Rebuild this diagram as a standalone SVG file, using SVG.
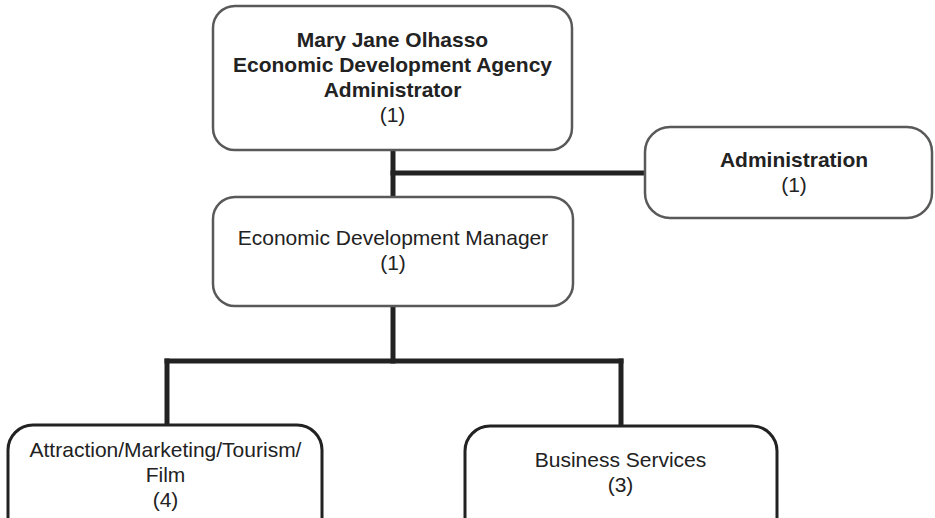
<svg xmlns="http://www.w3.org/2000/svg" width="935" height="518" viewBox="0 0 935 518">
<style>
.box{fill:#fff;stroke:#595959;stroke-width:2.5}
.box2{fill:#fff;stroke:#222;stroke-width:3}
.conn{fill:none;stroke:#222;stroke-width:5;stroke-linecap:square}
text{font-family:"Liberation Sans",Arial,sans-serif;font-size:21px;fill:#222;text-anchor:middle}
.b{font-weight:bold}
</style>
<rect width="935" height="518" fill="#fff"/>
<g id="connectors">
<path class="conn" d="M393,151 V196"/>
<path class="conn" d="M393,173 H645"/>
<path class="conn" d="M393,307 V361"/>
<path class="conn" d="M167,361 H621"/>
<path class="conn" d="M167,361 V424"/>
<path class="conn" d="M621,361 V424"/>
</g>
<g id="node-olhasso">
<rect class="box" x="213" y="6" width="359" height="144" rx="22"/>
<text class="b" x="392.5" y="47">Mary Jane Olhasso</text>
<text class="b" x="392.5" y="72">Economic Development Agency</text>
<text class="b" x="392.5" y="97">Administrator</text>
<text x="392.5" y="122">(1)</text>
</g>
<g id="node-administration">
<rect class="box" x="645" y="127" width="287" height="91" rx="25"/>
<text class="b" x="794" y="167">Administration</text>
<text x="794" y="192">(1)</text>
</g>
<g id="node-manager">
<rect class="box" x="213" y="197" width="360" height="109" rx="22"/>
<text x="393" y="245">Economic Development Manager</text>
<text x="393" y="270">(1)</text>
</g>
<g id="node-attraction">
<rect class="box2" x="8" y="425" width="314" height="120" rx="25"/>
<text x="165.5" y="457">Attraction/Marketing/Tourism/</text>
<text x="165.5" y="482">Film</text>
<text x="165.5" y="507">(4)</text>
</g>
<g id="node-business">
<rect class="box2" x="465" y="426" width="312" height="120" rx="25"/>
<text x="620.5" y="467">Business Services</text>
<text x="620.5" y="492">(3)</text>
</g>
</svg>
